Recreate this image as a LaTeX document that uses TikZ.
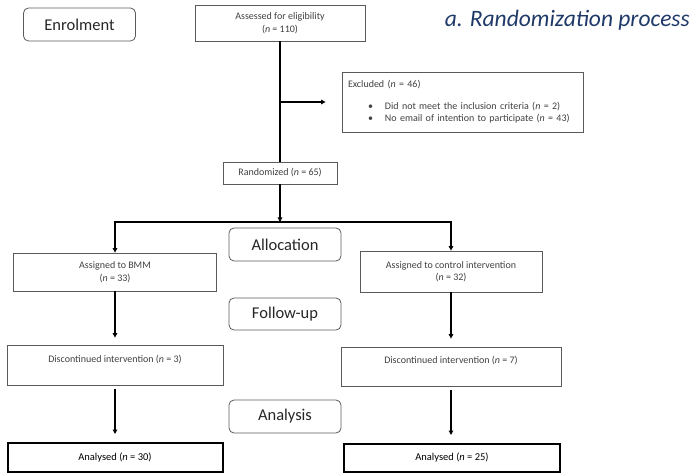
\documentclass[tikz,border=0pt]{standalone}
\usepackage{fontspec}
\setmainfont{Carlito}
\usetikzlibrary{positioning, arrows.meta, calc}
\definecolor{titleblue}{HTML}{1F3A68}
\definecolor{boxgray}{HTML}{5A5A5A}
\definecolor{textgray}{HTML}{404040}

\begin{document}
\begin{tikzpicture}[
      x=1pt, y=-1pt,
      every node/.style={font=\fontsize{10}{12.5}\selectfont, text=textgray},
      stage/.style={draw=boxgray, rounded corners=5pt, line width=0.8pt, inner sep=0pt,
                    minimum width=112pt, minimum height=33pt,
                    font=\fontsize{16.5}{19}\selectfont, text=black!85},
      infobox/.style={draw=boxgray, line width=0.8pt, inner sep=0pt, align=center},
      resultbox/.style={draw=black, line width=2pt, inner sep=0pt, text=black,
                        font=\fontsize{10.5}{12.5}\selectfont},
      flow/.style={-{Triangle[length=4.5pt,width=4.5pt]}, line width=1.6pt},
    ]
    \useasboundingbox (0,0) rectangle (691,473);

    % Title and stages
    \node[inner sep=0pt, anchor=base east, text=titleblue,
          font=\fontsize{23.5}{27}\selectfont\itshape] (title) at (690,27) {a. Randomization process};
    \node[stage] (enrol) at (79.5,24.5) {Enrolment};
    \node[stage] (alloc) at (285,244.5) {Allocation};
    \node[stage, minimum height=32pt] (follow) at (285,314) {Follow-up};
    \node[stage] (analysis) at (285,416.5) {Analysis};

    % Enrolment
    \node[infobox, minimum width=170pt, minimum height=36pt] (assess) at (280,23)
      {Assessed for eligibility\\(\textit{n} = 110)};
    \node[infobox, minimum width=241pt, minimum height=60pt, text width=229pt, align=left] (excl) at (462.5,102)
      {Excluded (\textit{n} = 46)\\[9pt]
       \hspace*{20pt}\makebox[17pt][l]{\textbullet}Did not meet the inclusion criteria (\textit{n} = 2)\\
       \hspace*{20pt}\makebox[17pt][l]{\textbullet}No email of intention to participate (\textit{n} = 43)};
    \node[infobox, minimum width=114pt, minimum height=22pt] (rand) at (280,173)
      {Randomized (\textit{n} = 65)};
    \coordinate (split) at (280,222);

    % Left arm
    \node[infobox, minimum width=203pt, minimum height=38pt] (bmm) at (115,272)
      {Assigned to BMM\\(\textit{n} = 33)};
    \node[infobox, minimum width=216pt, minimum height=40pt] (discL) at (115,365)
      {Discontinued intervention (\textit{n} = 3)\\ ~};
    \node[resultbox, minimum width=215pt, minimum height=29pt] (anaL) at (115,457.5)
      {Analysed (\textit{n} = 30)};

    % Right arm
    \node[infobox, minimum width=182pt, minimum height=41pt] (ctrl) at (451,271.5)
      {Assigned to control intervention\\(\textit{n} = 32)};
    \node[infobox, minimum width=220pt, minimum height=39pt] (discR) at (451,366.5)
      {Discontinued intervention (\textit{n} = 7)\\ ~};
    \node[resultbox, minimum width=216pt, minimum height=28pt] (anaR) at (452,458)
      {Analysed (\textit{n} = 25)};

    \draw[line width=1.6pt] (assess) -- (rand);
    \draw[flow] (assess |- excl) -- ([xshift=-16pt]excl.west);
    \draw[flow] (rand) -- (split);
    \draw[flow] (split) -| (bmm);
    \draw[flow] (split) -| (ctrl);
    \draw[flow, shorten >=7pt] (bmm) -- (discL);
    \draw[flow, shorten <=4pt, shorten >=8pt] (discL) -- (anaL);
    \draw[flow, shorten >=8pt] (ctrl) -- (discR);
    \draw[flow, shorten <=4pt, shorten >=8pt] (discR.south) -- (discR.south |- anaR.north);
  \end{tikzpicture}
\end{document}
